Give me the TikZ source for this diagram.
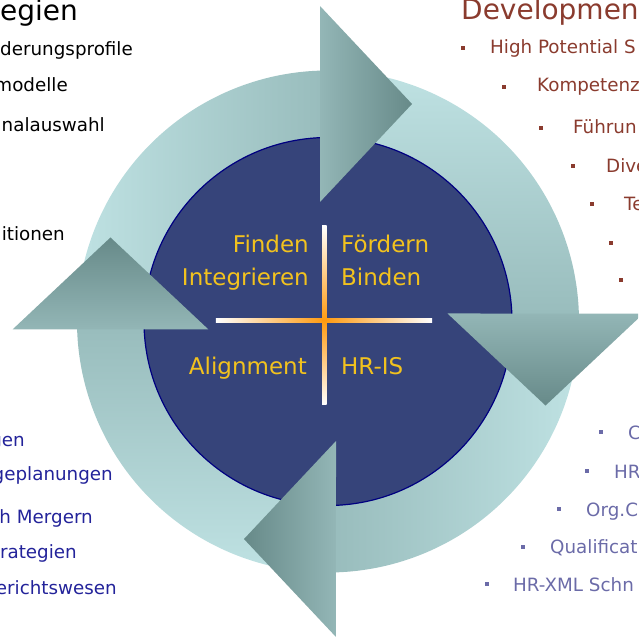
\documentclass[tikz,border=0pt]{standalone}
\usepackage{fontspec}
\setmainfont{DejaVu Sans}

\definecolor{ringlight}{HTML}{BFE2E3}
\definecolor{ringdark}{HTML}{97BBBB}
\definecolor{headlight}{HTML}{93B6B6}
\definecolor{headdark}{HTML}{678A89}
\definecolor{discblue}{HTML}{36447A}
\definecolor{discline}{HTML}{000080}
\definecolor{quadgold}{HTML}{F2C21E}
\definecolor{crossorange}{HTML}{FF9A10}
\definecolor{devbrown}{HTML}{8A3B2E}
\definecolor{listnavy}{HTML}{23239A}
\definecolor{listslate}{HTML}{6B6BA8}

\tikzset{
  quadtext/.style={font=\fontsize{23}{27}\selectfont, text=quadgold, inner sep=0pt},
  sidetext/.style={font=\fontsize{18.3}{22}\selectfont, inner sep=0pt},
  bigtitle/.style={font=\fontsize{28}{32}\selectfont, inner sep=0pt},
}

\begin{document}
\begin{tikzpicture}[x=1pt, y=1pt]
  \useasboundingbox (-328,321.5) rectangle (310,-317.5);
  \clip (-328,321.5) rectangle (310,-317.5);

  % Ring
  \foreach \k in {0,...,3} {
    \pgfmathsetmacro\a{-90*\k}
    \pgfmathsetmacro\sa{90-90*\k}
    \shade[top color=ringlight, bottom color=ringdark, shading angle=\sa]
      ({181+\a}:251) arc[start angle={181+\a}, end angle={89+\a}, radius=251]
      -- ({89+\a}:184) arc[start angle={89+\a}, end angle={181+\a}, radius=184] -- cycle;
  }

  % Disc
  \draw[discline, line width=1.2, fill=discblue] (0,0) circle[radius=184];

  % Heads
  \foreach \k in {0,...,3} {
    \pgfmathsetmacro\a{-90*\k}
    \pgfmathsetmacro\sa{90-90*\k}
    \shade[top color=headlight, bottom color=headdark, shading angle=\sa]
      ({91.45+\a}:315.6) -- ({68.88+\a}:233.2) -- ({93.83+\a}:119.8) -- cycle;
  }

  % Cross
  \shade[left color=white, right color=crossorange] (-112,-1.2) rectangle (-3.7,3.2);
  \shade[left color=crossorange, right color=white] (-3.7,-1.2) rectangle (104,3.2);
  \shade[top color=white, bottom color=crossorange] (-6,95.5) rectangle (-1.3,1);
  \shade[top color=crossorange, bottom color=white] (-6,1) rectangle (-1.3,-83.2);

  % Quadrants
  \node[quadtext, anchor=base east] (finden) at (-19,68.5) {Finden};
  \node[quadtext, anchor=base east] (integrieren) at (-19,35.5) {Integrieren};
  \node[quadtext, anchor=base west] (foerdern) at (13,68.5) {Fördern};
  \node[quadtext, anchor=base west] (binden) at (13,35.5) {Binden};
  \node[quadtext, anchor=base east] (alignment) at (-21,-53.5) {Alignment};
  \node[quadtext, anchor=base west] (hris) at (13,-53.5) {HR-IS};

  % Left lists
  \node[bigtitle, anchor=base east] (stratTitle) at (-250,300.5) {egien};
  \foreach \x/\y/\txt [count=\i] in {-195/265.5/derungsprofile, -260/229.5/modelle,
      -223/189.5/nalauswahl, -263/80.5/itionen}
    \node[sidetext, anchor=base east] (strat\i) at (\x,\y) {\txt};
  \foreach \x/\y/\txt [count=\i] in {-303/-124.5/gen, -215/-158.5/geplanungen,
      -235/-201.5/h Mergern, -251/-236.5/rategien, -211/-272.5/erichtswesen}
    \node[sidetext, anchor=base east, text=listnavy] (plan\i) at (\x,\y) {\txt};

  % Right lists
  \node[bigtitle, anchor=base west, text=devbrown] (devTitle) at (133,301.5) {Developmen};
  \foreach \bx/\by/\x/\y/\txt [count=\i] in {135/273.5/162/267.5/High Potential S,
      176/234.5/209/229.5/Kompetenz, 213/193.5/245/187.5/Führun,
      245/155.5/278/148.5/Dive, 264/117.5/296/110.5/Te} {
    \fill[devbrown] ({\bx-1.75},{\by-1.75}) rectangle ++(3.5,3.5);
    \node[sidetext, anchor=base west, text=devbrown] (dev\i) at (\x,\y) {\txt};
  }
  \foreach \bx/\by in {283/78.5, 293/41.5}
    \fill[devbrown] ({\bx-1.75},{\by-1.75}) rectangle ++(3.5,3.5);
  \foreach \bx/\by/\x/\y/\txt [count=\i] in {273/-110.5/300/-117.5/C,
      259/-149.5/286/-156.5/HR, 231/-187.5/258/-194.5/Org.C,
      195/-225.5/222/-231.5/Qualificat, 159/-262.5/185/-269.5/HR-XML Schn} {
    \fill[listslate] ({\bx-1.75},{\by-1.75}) rectangle ++(3.5,3.5);
    \node[sidetext, anchor=base west, text=listslate] (tech\i) at (\x,\y) {\txt};
  }
\end{tikzpicture}
\end{document}
